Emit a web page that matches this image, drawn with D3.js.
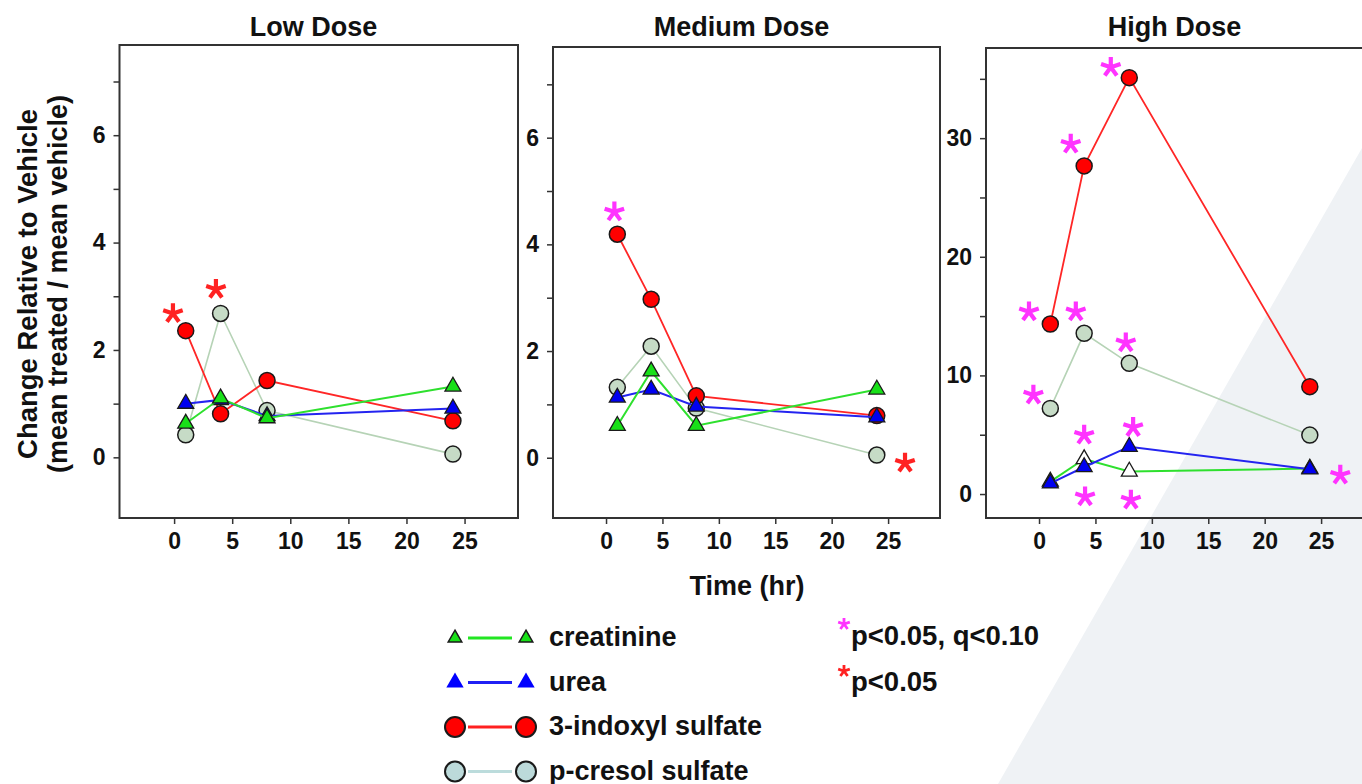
<!DOCTYPE html>
<html>
<head>
<meta charset="utf-8">
<script src="https://cdn.jsdelivr.net/npm/d3@7"></script>
<style>
  body { margin: 0; background: #fff; }
  svg { display: block; font-family: "Liberation Sans", Arial, sans-serif; font-weight: bold; }
</style>
</head>
<body>
<div id="chart"></div>
<script>
// sampling times (hr) and panel titles
const times = [1, 4, 8, 24];
const doses = ["Low Dose", "Medium Dose", "High Dose"];

// change relative to vehicle, one row per dose
const creatinine = [[0.63, 1.10, 0.73, 1.32], [0.60, 1.62, 0.60, 1.28], [1.05, 2.95, 1.90, 2.15]];
const urea = [[1.00, 1.07, 0.77, 0.91], [1.13, 1.28, 0.96, 0.76], [0.90, 2.28, 3.99, 2.08]];
const indoxyl = [[2.36, 0.81, 1.43, 0.68], [4.19, 2.97, 1.16, 0.79], [14.33, 27.66, 35.10, 9.05]];
const cresol = [[0.42, 2.68, 0.87, 0.06], [1.32, 2.09, 0.93, 0.05], [7.22, 13.55, 11.02, 4.97]];

// significance asterisks [time, value] per dose
const starsQ = [
  [],
  [[0.74, 4.61]],
  [[6.36, 35.98], [2.81, 29.5], [-0.89, 15.37], [3.26, 15.37], [7.69, 12.76], [-0.5, 8.35],
   [4.0, 4.97], [8.34, 5.62], [4.08, -0.23], [8.14, -0.5], [26.7, 1.6]]
];
const starsP = [
  [[-0.1, 2.68], [3.6, 3.13]],
  [[26.5, -0.1]],
  []
];

const xTicks = [0, 5, 10, 15, 20, 25];
const yTicksLow = [0, 1, 2, 3, 4, 5, 6, 7];
const yLabelsLow = [0, 2, 4, 6];
const yTicksHigh = [0, 5, 10, 15, 20, 25, 30, 35];
const yLabelsHigh = [0, 10, 20, 30];

const legendNames = ["creatinine", "urea", "3-indoxyl sulfate", "p-cresol sulfate"];
const sigLabels = ["p<0.05, q<0.10", "p<0.05"];

const W = 1362, H = 784;
const svg = d3.select("#chart").append("svg").attr("width", W).attr("height", H);

// pale backdrop wedge bottom right
svg.append("path")
  .attr("d", d3.line()([[W, 148], [998, H], [W, H]]))
  .attr("fill", "#eff2f5");

// 5 armed asterisk like the font glyph
const asterisk = {
  draw(ctx, size) {
    const r = Math.sqrt(size) / 2;
    for (let k = 0; k < 5; k++) {
      const a = -Math.PI / 2 + k * 2 * Math.PI / 5;
      ctx.moveTo(0, 0);
      ctx.lineTo(r * Math.cos(a), r * Math.sin(a));
    }
  }
};

const series = {
  cresol: { values: cresol, shape: "circle", fill: "#c6dbc6", stroke: "#b6d3b6", width: 1.6 },
  indoxyl: { values: indoxyl, shape: "circle", fill: "#ff0000", stroke: "#ff2626", width: 1.8 },
  creatinine: { values: creatinine, shape: "triangle", fill: "#18e018", stroke: "#2ee02e", width: 2 },
  urea: { values: urea, shape: "triangle", fill: "#0000f0", stroke: "#2424f0", width: 2 }
};

const panels = [
  { x0: 119.5, x1: 518, y0: 45, y1: 518, dom: [-1.13, 7.68], ticks: yTicksLow, labels: yLabelsLow,
    order: ["cresol", "indoxyl", "urea", "creatinine"], creatFill: null },
  { x0: 553, x1: 940, y0: 47, y1: 518, dom: [-1.13, 7.70], ticks: yTicksLow, labels: yLabelsLow,
    order: ["cresol", "indoxyl", "urea", "creatinine"], creatFill: null },
  { x0: 986, x1: 1373, y0: 48, y1: 518, dom: [-2.02, 37.6], ticks: yTicksHigh, labels: yLabelsHigh,
    order: ["cresol", "indoxyl", "creatinine", "urea"], creatFill: "#ffffff" }
];

const tri = d3.symbol().type(d3.symbolTriangle).size(110);

panels.forEach((p, i) => {
  const x = d3.scaleLinear().domain([-4.7, 29.6]).range([p.x0, p.x1]);
  const y = d3.scaleLinear().domain(p.dom).range([p.y1, p.y0]);
  const g = svg.append("g");

  // y axis: ticks every step, labels on some
  const yAxis = g.append("g")
    .attr("transform", `translate(${p.x0},0)`)
    .call(d3.axisLeft(y).tickValues(p.ticks).tickSize(6).tickPadding(8)
      .tickFormat(d => p.labels.includes(d) ? d : ""));
  yAxis.select(".domain").remove();
  yAxis.selectAll("line").attr("stroke", "#333").attr("stroke-width", 1.5);
  yAxis.selectAll("text").attr("fill", "#111").style("font-size", "23px").style("font-weight", "bold")
    .style("font-family", '"Liberation Sans", Arial, sans-serif');

  const xAxis = g.append("g")
    .attr("transform", `translate(0,${p.y1})`)
    .call(d3.axisBottom(x).tickValues(xTicks).tickSize(6).tickPadding(9));
  xAxis.select(".domain").remove();
  xAxis.selectAll("line").attr("stroke", "#333").attr("stroke-width", 1.5);
  xAxis.selectAll("text").attr("fill", "#111").style("font-size", "23px").style("font-weight", "bold")
    .style("font-family", '"Liberation Sans", Arial, sans-serif');

  g.append("rect")
    .attr("x", p.x0).attr("y", p.y0)
    .attr("width", p.x1 - p.x0).attr("height", p.y1 - p.y0)
    .attr("fill", "none").attr("stroke", "#333").attr("stroke-width", 2);

  g.append("text")
    .attr("x", x(12)).attr("y", 36)
    .attr("text-anchor", "middle").attr("fill", "#111")
    .style("font-size", "27px")
    .text(doses[i]);

  p.order.forEach(key => {
    const s = series[key];
    const pts = times.map((t, j) => [t, s.values[i][j]]);
    g.append("path")
      .attr("d", d3.line().x(d => x(d[0])).y(d => y(d[1]))(pts))
      .attr("fill", "none").attr("stroke", s.stroke).attr("stroke-width", s.width);
    const fill = key === "creatinine" && p.creatFill ? p.creatFill : s.fill;
    if (s.shape === "circle") {
      g.selectAll(null).data(pts).join("circle")
        .attr("cx", d => x(d[0])).attr("cy", d => y(d[1])).attr("r", 8)
        .attr("fill", fill).attr("stroke", "#1a1a1a").attr("stroke-width", 1.5);
    } else {
      g.selectAll(null).data(pts).join("path")
        .attr("d", tri)
        .attr("transform", d => `translate(${x(d[0])},${y(d[1])})`)
        .attr("fill", fill).attr("stroke", "#1a1a1a").attr("stroke-width", 1.3);
    }
  });

  const star = d3.symbol().type(asterisk).size(420);
  g.selectAll(null).data(starsQ[i]).join("path")
    .attr("d", star)
    .attr("transform", d => `translate(${x(d[0])},${y(d[1])})`)
    .attr("fill", "none").attr("stroke", "#ff33ff").attr("stroke-width", 4.2);
  g.selectAll(null).data(starsP[i]).join("path")
    .attr("d", star)
    .attr("transform", d => `translate(${x(d[0])},${y(d[1])})`)
    .attr("fill", "none").attr("stroke", "#ff2222").attr("stroke-width", 4.2);
});

// axis titles
svg.append("text")
  .attr("transform", "translate(37,284) rotate(-90)")
  .attr("text-anchor", "middle").attr("fill", "#111")
  .style("font-size", "27.5px")
  .text("Change Relative to Vehicle");
svg.append("text")
  .attr("transform", "translate(67,284) rotate(-90)")
  .attr("text-anchor", "middle").attr("fill", "#111")
  .style("font-size", "27px")
  .text("(mean treated / mean vehicle)");
svg.append("text")
  .attr("x", 747).attr("y", 595)
  .attr("text-anchor", "middle").attr("fill", "#111")
  .style("font-size", "27px")
  .text("Time (hr)");

// legend of series
const legendStyle = [
  { shape: "triangle", fill: "#18e018", stroke: "#1a1a1a", line: "#22e622", size: 80 },
  { shape: "triangle", fill: "#0000ff", stroke: "none", line: "#2020f4", size: 130 },
  { shape: "circle", fill: "#ff0000", stroke: "#1a1a1a", line: "#ff2020" },
  { shape: "circle", fill: "#bcdada", stroke: "#1a1a1a", line: "#bcdcdc" }
];
const legend = svg.append("g");
legendNames.forEach((name, i) => {
  const st = legendStyle[i];
  const cy = 638 + i * 44.5;
  const row = legend.append("g").attr("transform", `translate(0,${cy})`);
  row.append("line").attr("x1", 468).attr("x2", 512).attr("y1", 0).attr("y2", 0)
    .attr("stroke", st.line).attr("stroke-width", 3);
  [455, 526].forEach(cx => {
    if (st.shape === "circle") {
      row.append("circle").attr("cx", cx).attr("cy", 0).attr("r", 10)
        .attr("fill", st.fill).attr("stroke", st.stroke).attr("stroke-width", 2);
    } else {
      row.append("path").attr("d", d3.symbol().type(d3.symbolTriangle).size(st.size)())
        .attr("transform", `translate(${cx},0)`)
        .attr("fill", st.fill).attr("stroke", st.stroke).attr("stroke-width", 1.5);
    }
  });
  row.append("text").attr("x", 549).attr("y", 8).attr("fill", "#111")
    .style("font-size", "27px").text(name);
});

// legend of asterisks
const smallStar = d3.symbol().type(asterisk).size(150);
["#ff33ff", "#ff2222"].forEach((c, i) => {
  legend.append("path").attr("d", smallStar)
    .attr("transform", `translate(844,${624 + i * 47})`)
    .attr("fill", "none").attr("stroke", c).attr("stroke-width", 2.8);
  legend.append("text").attr("x", 851).attr("y", 645 + i * 46).attr("fill", "#111")
    .style("font-size", "27.5px").text(sigLabels[i]);
});
</script>
</body>
</html>
